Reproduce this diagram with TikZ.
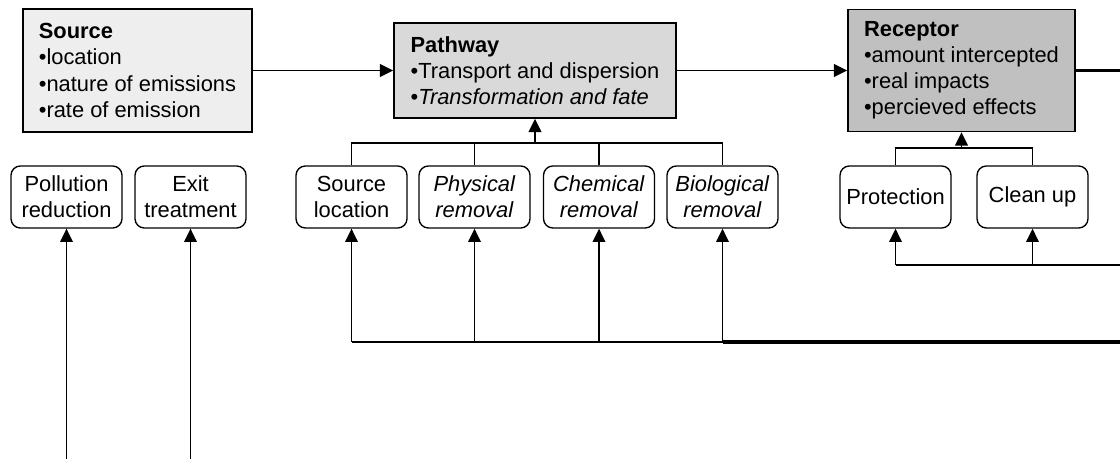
\documentclass[tikz,border=0pt]{standalone}
\usepackage{fontspec}
\setmainfont{Liberation Sans}
\usetikzlibrary{arrows.meta}

\definecolor{srcfill}{HTML}{EEEEEE}
\definecolor{pathfill}{HTML}{D9D9D9}
\definecolor{recfill}{HTML}{C0C0C0}

\begin{document}
\begin{tikzpicture}[x=0.75pt,y=-0.75pt,
    bigbox/.style={draw=black,line width=1.1pt,align=left,inner sep=0pt,font=\fontsize{16.4}{19.6}\selectfont},
    smallbox/.style={draw=black,rounded corners=7pt,line width=1pt,minimum width=83.25pt,minimum height=46.5pt,inner sep=0pt,align=center,font=\fontsize{16.4}{19.6}\selectfont},
    link/.style={line width=1.3pt},
    heavy/.style={line width=2.4pt},
    arr/.style={line width=1.3pt,-{Triangle[length=10pt,width=9.5pt]}}]
    \useasboundingbox (0,0) rectangle (1120,459);

    % main chain
    \node[bigbox,fill=srcfill,minimum width=171.75pt,minimum height=92.25pt] (src) at (137.5,70.5) {\textbf{Source}\\•location\\•nature of emissions\\•rate of emission};
    \node[bigbox,fill=pathfill,minimum width=211.5pt,minimum height=71.25pt] (path) at (535,70.5) {\textbf{Pathway}\\•Transport and dispersion\\•\textit{Transformation and fate}};
    \node[bigbox,fill=recfill,minimum width=170.25pt,minimum height=91.5pt] (rec) at (961.5,70.5) {\textbf{Receptor}\\•amount intercepted\\•real impacts\\•percieved effects};

    % control options
    \node[smallbox] (pollut) at (66.5,197) {Pollution\\reduction};
    \node[smallbox] (exit) at (190.5,197) {Exit\\treatment};
    \node[smallbox] (loc) at (351.5,197) {Source\\location};
    \node[smallbox] (phys) at (474.5,197) {\textit{Physical}\\\textit{removal}};
    \node[smallbox] (chem) at (599,197) {\textit{Chemical}\\\textit{removal}};
    \node[smallbox] (bio) at (722.5,197) {\textit{Biological}\\\textit{removal}};
    \node[smallbox] (protect) at (895.5,197) {Protection};
    \node[smallbox] (clean) at (1032.5,197) {Clean up};

    \coordinate (recout) at (1120,70.5);
    \coordinate (pjoin) at (535,143);
    \coordinate (rjoin) at (961.5,148);
    \coordinate (rfeed) at (1120,265);
    \coordinate (bfeed) at (1120,342);
    \coordinate (pin) at (66.5,459);
    \coordinate (ein) at (190.5,459);

    \draw[arr] (src) -- (path);
    \draw[arr] (path) -- (rec);
    \draw[heavy] (rec) -- (recout);

    % brackets into pathway and receptor
    \draw[link] (loc.north) |- (pjoin) -| (bio.north);
    \draw[link] (phys.north) -- (phys.north |- pjoin);
    \draw[link] (chem.north) -- (chem.north |- pjoin);
    \draw[arr] (pjoin) -- (path.south);
    \draw[link] (protect.north) |- (rjoin) -| (clean.north);
    \draw[arr] (rjoin) -- (rec.south);

    % feedback lines
    \draw[link] (loc.south |- bfeed) -- (bio.south |- bfeed);
    \draw[heavy] (bio.south |- bfeed) -- (bfeed);
    \foreach \n in {loc,phys,chem,bio}
        \draw[arr] (\n.south |- bfeed) -- (\n.south);
    \draw[line width=1.8pt] (protect.south |- rfeed) -- (rfeed);
    \foreach \n in {protect,clean}
        \draw[arr] (\n.south |- rfeed) -- (\n.south);
    \draw[arr] (pin) -- (pollut.south);
    \draw[arr] (ein) -- (exit.south);
\end{tikzpicture}
\end{document}
